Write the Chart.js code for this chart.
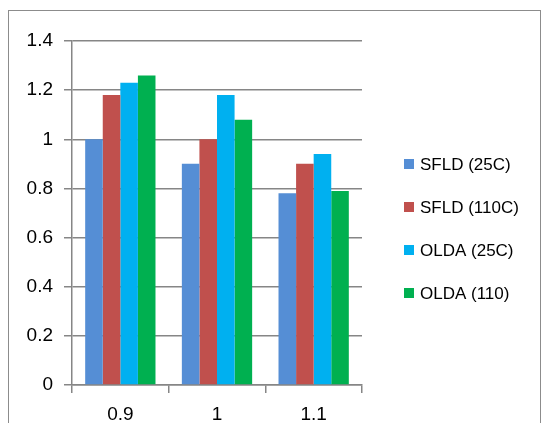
<!DOCTYPE html>
<html>
<head>
<meta charset="utf-8">
<script src="https://cdn.jsdelivr.net/npm/chart.js@4/dist/chart.umd.min.js"></script>
<style>
  body { margin: 0; background: #fff; }
  #wrap { width: 544px; height: 423px; position: relative; }
</style>
</head>
<body>
<div id="wrap"><canvas id="chart"></canvas></div>
<script>
var categories = ['0.9', '1', '1.1'];
var seriesNames = ['SFLD (25C)', 'SFLD (110C)', 'OLDA (25C)', 'OLDA (110)'];
var sfld25 = [1.0, 0.9, 0.78];
var sfld110 = [1.18, 1.0, 0.9];
var olda25 = [1.23, 1.18, 0.94];
var olda110 = [1.26, 1.08, 0.79];
var seriesColors = ['#558ED5', '#C0504D', '#00B0F0', '#00B050'];

var gridColor = '#868686';
var fontFamily = '"Liberation Sans", Arial, sans-serif';

// outer frame of the chart object
var framePlugin = {
    id: 'frame',
    beforeDraw: function(chart) {
        var ctx = chart.ctx;
        ctx.save();
        ctx.strokeStyle = '#8c8c8c';
        ctx.lineWidth = 1;
        ctx.strokeRect(8.5, 10.5, 532, 500);
        ctx.restore();
    }
};

// legend drawn on the right, from the datasets
var sideLegend = {
    id: 'sideLegend',
    afterDraw: function(chart) {
        var ctx = chart.ctx;
        ctx.save();
        ctx.font = '17px ' + fontFamily;
        ctx.textBaseline = 'middle';
        ctx.textAlign = 'left';
        chart.data.datasets.forEach(function(ds, i) {
            var y = 164 + i * 43;
            ctx.fillStyle = ds.backgroundColor;
            ctx.fillRect(404, y - 5, 10, 10);
            ctx.fillStyle = '#000';
            ctx.fillText(ds.label, 420, y + 1);
        });
        ctx.restore();
    }
};

var dataValues = [sfld25, sfld110, olda25, olda110];

var ctx = document.getElementById('chart').getContext('2d');
var chart = new Chart(ctx, {
    type: 'bar',
    data: {
        labels: categories,
        datasets: dataValues.map(function(vals, i) {
            return {
                label: seriesNames[i],
                data: vals,
                backgroundColor: seriesColors[i],
                borderWidth: 0,
                categoryPercentage: 4 / 5.5,
                barPercentage: 1.0
            };
        })
    },
    options: {
        responsive: true,
        maintainAspectRatio: false,
        animation: false,
        layout: {
            padding: { left: 0, top: 41, right: 182, bottom: 0 }
        },
        scales: {
            x: {
                afterFit: function(s) { s.height = 38; },
                grid: {
                    offset: true,
                    drawOnChartArea: false,
                    drawTicks: true,
                    tickLength: 8,
                    color: gridColor,
                    lineWidth: 1.5
                },
                border: { color: gridColor, width: 1.5 },
                ticks: {
                    color: '#000',
                    padding: 10,
                    font: { family: fontFamily, size: 19 }
                }
            },
            y: {
                min: 0,
                max: 1.4,
                afterFit: function(s) { s.width = 72; },
                grid: {
                    color: gridColor,
                    lineWidth: 1.5,
                    tickLength: 8
                },
                border: { color: gridColor, width: 1.5 },
                ticks: {
                    stepSize: 0.2,
                    color: '#000',
                    padding: 11,
                    font: { family: fontFamily, size: 19 },
                    callback: function(v) { return String(Number(v.toFixed(1))); }
                }
            }
        },
        plugins: {
            legend: { display: false },
            tooltip: { enabled: false }
        }
    },
    plugins: [framePlugin, sideLegend]
});
</script>
</body>
</html>
